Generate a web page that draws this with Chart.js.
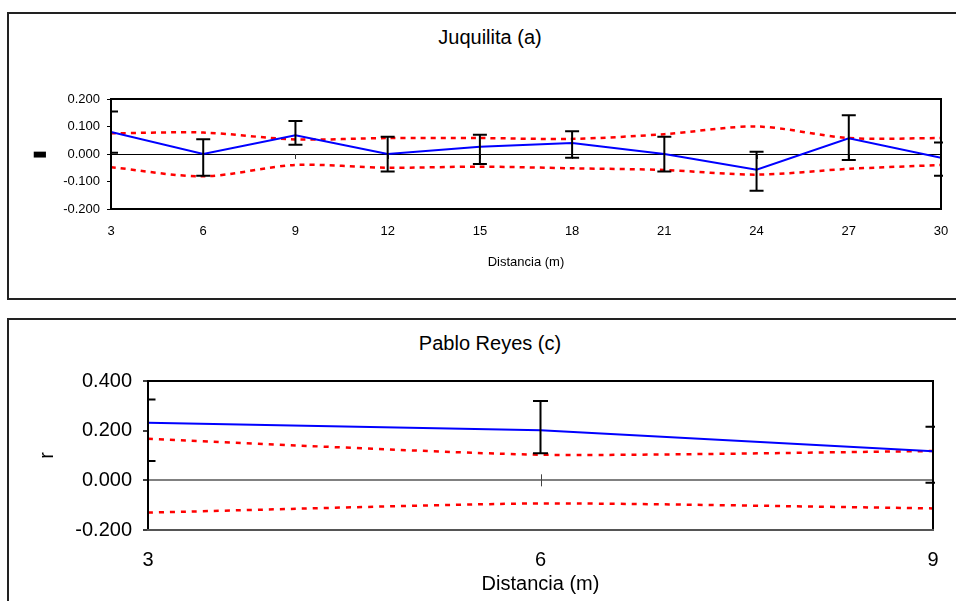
<!DOCTYPE html>
<html>
<head>
<meta charset="utf-8">
<script src="https://cdn.jsdelivr.net/npm/chart.js@4.4.0/dist/chart.umd.min.js"></script>
<style>
html, body { margin: 0; padding: 0; background: #fff; overflow: hidden; width: 956px; height: 601px; position: relative; font-family: "Liberation Sans", Arial, sans-serif; }
.panel { position: absolute; left: 7px; width: 990px; border: 2px solid #222; box-sizing: border-box; }
#p1 { top: 12px; height: 288px; }
#p2 { top: 318px; height: 320px; }
.ttl { position: absolute; left: 0; width: 980px; text-align: center; font-size: 20px; line-height: 24px; color: #000; }
canvas { position: absolute; left: 0; }
#cJ { top: 0; }
#cP { top: 300px; }
</style>
</head>
<body>
<div class="panel" id="p1"></div>
<div class="panel" id="p2"></div>
<div class="ttl" style="top:25px">Juquilita (a)</div>
<div class="ttl" style="top:331px">Pablo Reyes (c)</div>
<canvas id="cJ" width="956" height="300"></canvas>
<canvas id="cP" width="956" height="301"></canvas>
<script>
// Juquilita (a)
var distJ = [3, 6, 9, 12, 15, 18, 21, 24, 27, 30];
var rJ = [0.080, 0.000, 0.068, 0.000, 0.026, 0.040, 0.000, -0.057, 0.057, -0.014];
var errHiJ = [0.155, 0.054, 0.120, 0.063, 0.070, 0.083, 0.063, 0.008, 0.141, 0.042];
var errLoJ = [0.005, -0.079, 0.034, -0.064, -0.036, -0.014, -0.064, -0.134, -0.022, -0.079];
var upJ = [0.075, 0.078, 0.053, 0.058, 0.058, 0.055, 0.072, 0.100, 0.058, 0.058];
var loJ = [-0.048, -0.081, -0.040, -0.050, -0.046, -0.052, -0.058, -0.075, -0.054, -0.040];
var xTicksJ = [3, 6, 9, 12, 15, 18, 21, 24, 27, 30];
var yTicksJ = [-0.2, -0.1, 0, 0.1, 0.2];

// Pablo Reyes (c)
var distP = [3, 6, 9];
var rP = [0.232, 0.202, 0.117];
var errHiP = [0.326, 0.319, 0.216];
var errLoP = [0.078, 0.109, -0.010];
var upP = [0.167, 0.103, 0.118];
var loP = [-0.130, -0.093, -0.113];
var xTicksP = [3, 6, 9];
var yTicksP = [-0.2, 0, 0.2, 0.4];

Chart.defaults.font.family = '"Liberation Sans", Arial, sans-serif';
Chart.defaults.color = '#000';

function toXY(xs, ys) {
    return xs.map(function(x, i) { return { x: x, y: ys[i] }; });
}

function setTicks(list) {
    return function(scale) {
        scale.ticks = list.map(function(v) { return { value: v }; });
    };
}

// fixed axis size, no extra room for the end labels
function fixHeight(h) {
    return function(s) { s.height = h; s.paddingLeft = 0; s.paddingRight = 0; };
}
function fixWidth(w) {
    return function(s) { s.width = w; s.paddingTop = 0; s.paddingBottom = 0; };
}

// error bars, plot frame and the small ticks on the zero line
function makeExtras(cfg) {
    return {
        id: 'extras',
        beforeDatasetsDraw: function(chart) {
            var ctx = chart.ctx;
            var x = chart.scales.x, y = chart.scales.y;
            var y0 = y.getPixelForValue(0);
            ctx.save();
            ctx.strokeStyle = cfg.zeroTickColor;
            ctx.lineWidth = 1;
            x.ticks.forEach(function(t) {
                var px = Math.round(x.getPixelForValue(t.value)) + 0.5;
                ctx.beginPath();
                ctx.moveTo(px, y0 + cfg.zeroTickUp);
                ctx.lineTo(px, y0 + cfg.zeroTickDown);
                ctx.stroke();
            });
            ctx.restore();
        },
        afterDatasetsDraw: function(chart) {
            var ctx = chart.ctx, a = chart.chartArea;
            var x = chart.scales.x, y = chart.scales.y;
            ctx.save();
            ctx.beginPath();
            ctx.rect(a.left - 1, a.top - 2, a.right - a.left + 3, a.bottom - a.top + 4);
            ctx.clip();
            ctx.strokeStyle = '#000';
            ctx.lineWidth = 2;
            cfg.xs.forEach(function(v, i) {
                var px = x.getPixelForValue(v);
                var ph = y.getPixelForValue(cfg.hi[i]);
                var pl = y.getPixelForValue(cfg.lo[i]);
                ctx.beginPath();
                ctx.moveTo(px, ph); ctx.lineTo(px, pl);
                ctx.moveTo(px - cfg.cap, ph); ctx.lineTo(px + cfg.cap, ph);
                ctx.moveTo(px - cfg.cap, pl); ctx.lineTo(px + cfg.cap, pl);
                ctx.stroke();
            });
            ctx.restore();

            ctx.save();
            ctx.lineWidth = 2;
            ctx.strokeStyle = '#000';
            ctx.beginPath();
            ctx.moveTo(a.left, a.bottom);
            ctx.lineTo(a.left, a.top);
            ctx.lineTo(a.right, a.top);
            ctx.lineTo(a.right, a.bottom);
            ctx.stroke();
            ctx.strokeStyle = cfg.bottomColor;
            ctx.beginPath();
            ctx.moveTo(a.left - 1, a.bottom);
            ctx.lineTo(a.right + 1, a.bottom);
            ctx.stroke();
            ctx.restore();
        }
    };
}

function zeroGrid(col) {
    return function(c) {
        return (c.tick && Math.abs(c.tick.value) < 1e-9) ? col : 'rgba(0,0,0,0)';
    };
}

new Chart(document.getElementById('cJ'), {
    type: 'line',
    data: {
        datasets: [
            { data: toXY(distJ, rJ), borderColor: '#0000ff', borderWidth: 2, pointRadius: 0, tension: 0 },
            { data: toXY(distJ, upJ), borderColor: '#ff0000', borderWidth: 2.5, borderDash: [5, 5], pointRadius: 0, tension: 0.3 },
            { data: toXY(distJ, loJ), borderColor: '#ff0000', borderWidth: 2.5, borderDash: [5, 5], pointRadius: 0, tension: 0.3 }
        ]
    },
    options: {
        responsive: false,
        animation: false,
        devicePixelRatio: 1,
        layout: { padding: { left: 0, right: 15, top: 99, bottom: 0 } },
        plugins: { legend: { display: false }, tooltip: { enabled: false }, title: { display: false } },
        scales: {
            x: {
                type: 'linear', min: 3, max: 30,
                afterBuildTicks: setTicks(xTicksJ),
                afterFit: fixHeight(91),
                grid: { display: false, drawTicks: false },
                border: { display: false },
                ticks: { font: { size: 13 }, color: '#000', padding: 15, maxRotation: 0 },
                title: { display: true, text: 'Distancia (m)', font: { size: 13 }, color: '#000', padding: { top: 0, bottom: 30 } }
            },
            y: {
                min: -0.2, max: 0.2,
                afterBuildTicks: setTicks(yTicksJ),
                afterFit: fixWidth(111),
                grid: { color: zeroGrid('#000'), lineWidth: 1, tickColor: '#000', tickLength: 4 },
                border: { display: false },
                ticks: { font: { size: 13 }, color: '#000', padding: 7, callback: function(v) { return v.toFixed(3); } },
                title: { display: true, text: '▮', font: { size: 16 }, color: '#000', padding: { top: 30, bottom: 0 } }
            }
        }
    },
    plugins: [makeExtras({ xs: distJ, hi: errHiJ, lo: errLoJ, cap: 7, bottomColor: '#000', zeroTickColor: '#333', zeroTickUp: 0, zeroTickDown: 5 })]
});

new Chart(document.getElementById('cP'), {
    type: 'line',
    data: {
        datasets: [
            { data: toXY(distP, rP), borderColor: '#0000ff', borderWidth: 2, pointRadius: 0, tension: 0 },
            { data: toXY(distP, upP), borderColor: '#ff0000', borderWidth: 2.5, borderDash: [5, 6], pointRadius: 0, tension: 0.2 },
            { data: toXY(distP, loP), borderColor: '#ff0000', borderWidth: 2.5, borderDash: [5, 6], pointRadius: 0, tension: 0.2 }
        ]
    },
    options: {
        responsive: false,
        animation: false,
        devicePixelRatio: 1,
        layout: { padding: { left: 0, right: 23, top: 81, bottom: 0 } },
        plugins: { legend: { display: false }, tooltip: { enabled: false }, title: { display: false } },
        scales: {
            x: {
                type: 'linear', min: 3, max: 9,
                afterBuildTicks: setTicks(xTicksP),
                afterFit: fixHeight(71),
                grid: { display: false, drawTicks: false },
                border: { display: false },
                ticks: { font: { size: 20 }, color: '#000', padding: 18, maxRotation: 0 },
                title: { display: true, text: 'Distancia (m)', font: { size: 20 }, color: '#000', padding: { top: 0, bottom: 5 } }
            },
            y: {
                min: -0.2, max: 0.4,
                afterBuildTicks: setTicks(yTicksP),
                afterFit: fixWidth(148),
                grid: { color: zeroGrid('#808080'), lineWidth: 2, tickColor: '#000', tickLength: 5, tickWidth: 1.5 },
                border: { display: false },
                ticks: { font: { size: 20 }, color: '#000', padding: 11, callback: function(v) { return v.toFixed(3); } },
                title: { display: true, text: 'r', font: { size: 20 }, color: '#000', padding: { top: 35, bottom: 0 } }
            }
        }
    },
    plugins: [makeExtras({ xs: distP, hi: errHiP, lo: errLoP, cap: 7.5, bottomColor: '#555', zeroTickColor: '#444', zeroTickUp: -6, zeroTickDown: 6 })]
});
</script>
</body>
</html>
